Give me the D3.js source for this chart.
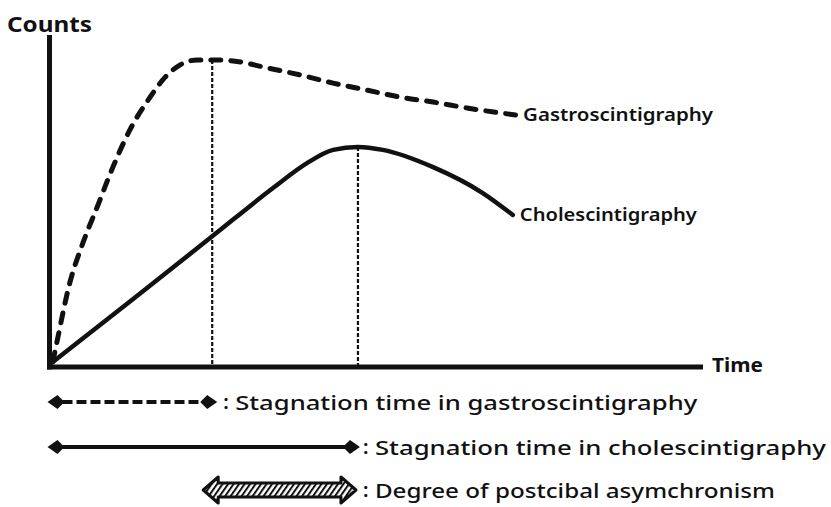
<!DOCTYPE html>
<html>
<head>
<meta charset="utf-8">
<script src="https://cdn.jsdelivr.net/npm/d3@7"></script>
<style>
  html, body { margin: 0; padding: 0; background: #fff; }
  text { font-family: "Noto Sans", "DejaVu Sans", sans-serif; fill: #111; }
</style>
</head>
<body>
<div id="chart"></div>
<script>
// values (time and counts in arbitrary units, 0..100)
var gastroTime   = [0.5, 1.1, 3.1, 5.1, 7.3, 9.7, 12.3, 15.4, 17.7, 20.0, 22.6, 24.9, 28.1, 33.3, 38.3, 43.4, 48.6, 53.6, 58.7, 63.9, 71.4];
var gastroCounts = [1.5, 7.2, 25.3, 37.3, 48.2, 60.2, 71.4, 81.3, 87.3, 91.0, 92.5, 92.5, 92.2, 90.1, 88.0, 85.5, 83.4, 81.3, 79.8, 78.0, 75.9];
var choleTime    = [0.5, 12.8, 25.0, 34.2, 39.4, 43.4, 47.2, 51.0, 58.7, 66.3, 70.9];
var choleCounts  = [1.5, 20.5, 39.5, 53.9, 61.4, 65.4, 66.3, 65.4, 60.2, 52.4, 45.8];
var peakTimes    = [24.9, 47.2];
var curveLabels  = ["Gastroscintigraphy", "Cholescintigraphy"];
var legendLabels = ["Stagnation time in gastroscintigraphy", "Stagnation time in cholescintigraphy", "Degree of postcibal asymchronism"];

window.onload = function(){
    var width = 831, height = 507;
    var svg = d3.select("#chart").append("svg")
        .attr("width", width)
        .attr("height", height);

    var x = d3.scaleLinear().domain([0, 100]).range([49.5, 703]);
    var y = d3.scaleLinear().domain([0, 100]).range([367, 35]);

    var defs = svg.append("defs");
    // hatch for the asynchrony arrow
    var pat = defs.append("pattern")
        .attr("id", "hatch")
        .attr("patternUnits", "userSpaceOnUse")
        .attr("width", 4.5).attr("height", 4.5)
        .attr("patternTransform", "rotate(35)");
    pat.append("rect").attr("width", 4.5).attr("height", 4.5).attr("fill", "#fff");
    pat.append("line").attr("x1", 1).attr("y1", 0).attr("x2", 1).attr("y2", 4.5)
        .attr("stroke", "#111").attr("stroke-width", 2);

    drawAxes(svg, x, y);
    drawCurves(svg, x, y);
    drawLegend(svg, x);
};

function drawAxes(svg, x, y){
    var x0 = x(0), y0 = y(0);
    svg.append("line")
        .attr("x1", x0).attr("y1", y0 + 2.5)
        .attr("x2", x0).attr("y2", y(100))
        .attr("stroke", "#111").attr("stroke-width", 5);
    svg.append("line")
        .attr("x1", x0 - 2.5).attr("y1", y0)
        .attr("x2", x(100)).attr("y2", y0)
        .attr("stroke", "#111").attr("stroke-width", 5);

    svg.append("text")
        .attr("x", 7).attr("y", 32)
        .attr("font-size", 22).attr("font-weight", "bold")
        .attr("textLength", 85).attr("lengthAdjust", "spacingAndGlyphs")
        .text("Counts");
    svg.append("text")
        .attr("x", x(100) + 9).attr("y", 372)
        .attr("font-size", 20).attr("font-weight", "bold")
        .attr("textLength", 51).attr("lengthAdjust", "spacingAndGlyphs")
        .text("Time");
}

function drawCurves(svg, x, y){
    var line = d3.line()
        .x(function(d) { return x(d[0]); })
        .y(function(d) { return y(d[1]); })
        .curve(d3.curveMonotoneX);

    var gastro = d3.zip(gastroTime, gastroCounts);
    var chole = d3.zip(choleTime, choleCounts);

    // dotted drop lines at the two peaks
    var peakCounts = [d3.max(gastroCounts), d3.max(choleCounts)];
    svg.selectAll(".drop")
        .data(peakTimes)
        .enter()
        .append("line")
          .attr("class", "drop")
          .attr("x1", function(d) { return x(d); })
          .attr("x2", function(d) { return x(d); })
          .attr("y1", function(d, i) { return y(peakCounts[i]); })
          .attr("y2", y(0))
          .attr("stroke", "#111")
          .attr("stroke-width", 2.2)
          .attr("stroke-dasharray", "4,2");

    svg.append("path")
        .datum(gastro)
        .attr("d", line)
        .attr("fill", "none")
        .attr("stroke", "#111")
        .attr("stroke-width", 5)
        .attr("stroke-linecap", "round")
        .attr("stroke-dasharray", "10,10");
    svg.append("path")
        .datum(chole)
        .attr("d", line)
        .attr("fill", "none")
        .attr("stroke", "#111")
        .attr("stroke-width", 4.5)
        .attr("stroke-linecap", "round");

    var ends = [gastro[gastro.length - 1], chole[chole.length - 1]];
    var labelWidths = [190, 177];
    svg.selectAll(".clabel")
        .data(ends)
        .enter()
        .append("text")
          .attr("class", "clabel")
          .attr("x", function(d) { return x(d[0]) + 7; })
          .attr("y", function(d) { return y(d[1]) + 6; })
          .attr("font-size", 17)
          .attr("font-weight", 600)
          .attr("textLength", function(d, i) { return labelWidths[i]; })
          .attr("lengthAdjust", "spacingAndGlyphs")
          .text(function(d, i) { return curveLabels[i]; });
}

function arrowHead(g, tipX, cy, dir){
    // kite shaped head, dir = 1 points right, -1 points left
    g.append("path")
        .attr("d", "M" + tipX + "," + cy +
                   "L" + (tipX - dir * 10) + "," + (cy - 7) +
                   "L" + (tipX - dir * 17) + "," + cy +
                   "L" + (tipX - dir * 10) + "," + (cy + 7) + "Z")
        .attr("fill", "#111");
}

function drawLegend(svg, x){
    var rowY = [402, 447, 490];
    var spans = [[0, peakTimes[0]], [0, peakTimes[1]], [peakTimes[0], peakTimes[1]]];
    var textWidths = [462, 451, 400];

    spans.forEach(function(s, i){
        var g = svg.append("g");
        var cy = rowY[i];
        var left = x(s[0]), right = x(s[1]);
        if (i < 2) {
            var l = left - 2, r = right + (i == 0 ? 5 : 2);
            g.append("line")
                .attr("x1", l + 15).attr("x2", r - 15)
                .attr("y1", cy).attr("y2", cy)
                .attr("stroke", "#111")
                .attr("stroke-width", 4)
                .attr("stroke-dasharray", i == 0 ? "10,4" : null);
            arrowHead(g, l, cy, -1);
            arrowHead(g, r, cy, 1);
        } else {
            var l = left - 9, r = right - 2;
            var pts = [[l, cy], [l + 15, cy - 13], [l + 15, cy - 7], [r - 15, cy - 7], [r - 15, cy - 13], [r, cy],
                       [r - 15, cy + 13], [r - 15, cy + 7], [l + 15, cy + 7], [l + 15, cy + 13]];
            g.append("path")
                .attr("d", d3.line()(pts) + "Z")
                .attr("fill", "url(#hatch)")
                .attr("stroke", "#111")
                .attr("stroke-width", 3)
                .attr("stroke-linejoin", "round");
        }
        var tx = (i == 0 ? x(s[1]) + 11 : x(s[1]) + 5);
        g.append("text")
            .attr("x", tx).attr("y", cy + 7)
            .attr("font-size", 20).attr("font-weight", 600)
            .text(":");
        g.append("text")
            .attr("x", tx + 12).attr("y", cy + 8)
            .attr("font-size", 20).attr("font-weight", 500)
            .attr("textLength", textWidths[i])
            .attr("lengthAdjust", "spacingAndGlyphs")
            .text(legendLabels[i]);
    });
}
</script>
</body>
</html>
